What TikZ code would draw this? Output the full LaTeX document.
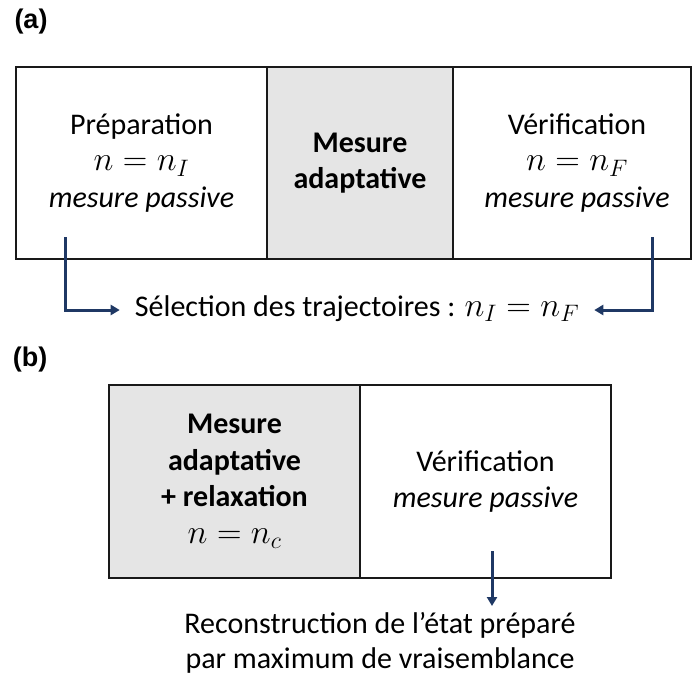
\RequirePackage{fix-cm}
\documentclass[tikz,border=0pt]{standalone}
\usepackage{fontspec}
\setmainfont{Carlito}
\newfontfamily\labfont{Liberation Sans}
\usetikzlibrary{arrows.meta}
\definecolor{navy}{HTML}{1F3864}
\definecolor{cellgray}{HTML}{E5E5E5}
\newcommand\mth[1]{{\fontsize{34}{36.5}\selectfont$#1$}}
\begin{document}
\begin{tikzpicture}[x=1pt,y=-1pt,
  cell/.style={draw=black!90, line width=1.8pt, minimum height=192pt, inner sep=0pt,
    align=center, font=\fontsize{30}{36.5}\selectfont},
  grey/.style={fill=cellgray},
  txt/.style={inner sep=0pt, align=center, font=\fontsize{30}{35}\selectfont},
  lab/.style={inner sep=0pt, font=\labfont\bfseries\fontsize{27}{30}\selectfont},
  arr/.style={draw=navy, line width=3pt, -{Triangle[length=9pt,width=10pt]}}]
\useasboundingbox (0,0) rectangle (692,686);

% (a)
\node[lab] (la) at (31,22) {(a)};
\node[cell, minimum width=251pt] (a1) at (141.5,163) {Préparation\\\mth{n=n_I}\\\textit{mesure passive}};
\node[cell, grey, minimum width=186pt] (a2) at (360,163) {\textbf{Mesure}\\\textbf{adaptative}};
\node[cell, minimum width=238pt] (a3) at (572,163) {\hspace*{10pt}Vérification\\\hspace*{10pt}\mth{n=n_F}\\\hspace*{10pt}\textit{mesure passive}};
\coordinate (pa) at (65,237);
\coordinate (fa) at (652,237);
\node[txt, inner xsep=15pt, text height=21pt, text depth=9pt] (sel) at (357,310) {Sélection des trajectoires : \mth{n_I=n_F}};
\draw[arr] (pa) |- (sel.west);
\draw[arr] (fa) |- (sel.east);

% (b)
\node[lab] (lb) at (30,360) {(b)};
\node[cell, grey, minimum width=251pt, minimum height=193pt] (b1) at (234.5,481.5) {\textbf{Mesure}\\\textbf{adaptative}\\\textbf{+ relaxation}\\\mth{n=n_c}};
\node[cell, minimum width=251pt, minimum height=193pt] (b2) at (485.5,481.5) {Vérification\\\textit{mesure passive}};
\coordinate (pb) at (492,551);
\coordinate (tb) at (492,606);
\draw[arr] (pb) -- (tb);
\node[txt] (rec) at (380,643) {Reconstruction de l’état préparé\\par maximum de vraisemblance};
\end{tikzpicture}
\end{document}
